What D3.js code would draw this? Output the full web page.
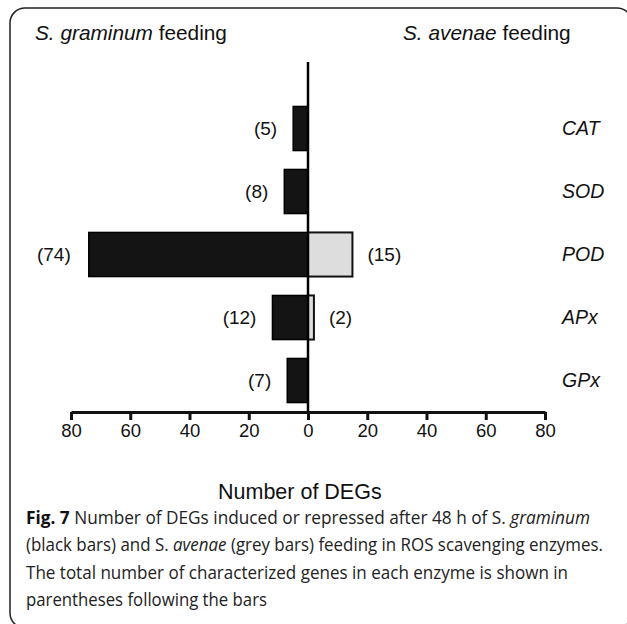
<!DOCTYPE html>
<html>
<head>
<meta charset="utf-8">
<script src="https://cdn.jsdelivr.net/npm/d3@7"></script>
<style>
  body { margin: 0; background: #fff; }
  svg { display: block; }
  .chart text { font-family: "Liberation Sans", Arial, sans-serif; fill: #111; }
  .caption text { font-family: "Open Sans", sans-serif; fill: #222; }
</style>
</head>
<body>
<div id="fig"></div>
<script>
// data
const enzymes = ["CAT", "SOD", "POD", "APx", "GPx"];
const graminum = [5, 8, 74, 12, 7];   // black bars (left)
const avenae = [0, 0, 15, 2, 0];      // grey bars (right)
const tickValues = [-80, -60, -40, -20, 0, 20, 40, 60, 80];
const captionLines = [
  [["Fig. 7", "bold"], [" Number of DEGs induced or repressed after 48 h of S. ", ""], ["graminum", "italic"]],
  [["(black bars) and S. ", ""], ["avenae", "italic"], [" (grey bars) feeding in ROS scavenging enzymes.", ""]],
  [["The total number of characterized genes in each enzyme is shown in", ""]],
  [["parentheses following the bars", ""]]
];
const captionWidths = [564, 577, 542, 241];

const W = 627, H = 624;
const FONT = "'Liberation Sans', Arial, sans-serif";

const svg = d3.select("#fig").append("svg")
  .attr("width", W)
  .attr("height", H);

// frame round the figure
svg.append("rect")
  .attr("x", 10).attr("y", 8)
  .attr("width", 622).attr("height", 620)
  .attr("rx", 15)
  .attr("fill", "none")
  .attr("stroke", "#222")
  .attr("stroke-width", 1.5);

const chart = svg.append("g").attr("class", "chart");

const x = d3.scaleLinear().domain([-80, 80]).range([71, 545]);
const y = d3.scaleBand().domain(enzymes).range([97, 412])
  .paddingInner(0.3).paddingOuter(0.15);

const rows = enzymes.map((e, i) => ({name: e, left: graminum[i], right: avenae[i]}));

// black bars
chart.selectAll("rect.left")
  .data(rows)
  .join("rect")
  .attr("class", "left")
  .attr("x", d => x(-d.left))
  .attr("y", d => y(d.name))
  .attr("width", d => x(0) - x(-d.left))
  .attr("height", y.bandwidth())
  .attr("fill", "#141414")
  .attr("stroke", "#000")
  .attr("stroke-width", 1.5);

// grey bars
chart.selectAll("rect.right")
  .data(rows.filter(d => d.right > 0))
  .join("rect")
  .attr("class", "right")
  .attr("x", x(0))
  .attr("y", d => y(d.name))
  .attr("width", d => x(d.right) - x(0))
  .attr("height", y.bandwidth())
  .attr("fill", "#dcdddc")
  .attr("stroke", "#111")
  .attr("stroke-width", 2);

// value labels
chart.selectAll("text.lval")
  .data(rows)
  .join("text")
  .attr("class", "lval")
  .attr("x", d => x(-d.left) - (d.left > 50 ? 18 : 16))
  .attr("y", d => y(d.name) + y.bandwidth() / 2)
  .attr("dy", "0.35em")
  .attr("text-anchor", "end")
  .style("font-family", FONT)
  .style("font-size", "19px")
  .text(d => "(" + d.left + ")");

chart.selectAll("text.rval")
  .data(rows.filter(d => d.right > 0))
  .join("text")
  .attr("class", "rval")
  .attr("x", d => x(d.right) + 15)
  .attr("y", d => y(d.name) + y.bandwidth() / 2)
  .attr("dy", "0.35em")
  .style("font-family", FONT)
  .style("font-size", "19px")
  .text(d => "(" + d.right + ")");

// enzyme names
chart.selectAll("text.name")
  .data(rows)
  .join("text")
  .attr("class", "name")
  .attr("x", 562)
  .attr("y", d => y(d.name) + y.bandwidth() / 2)
  .attr("dy", "0.35em")
  .style("font-family", FONT)
  .style("font-size", "19.5px")
  .style("font-style", "italic")
  .text(d => d.name);

// centre line
chart.append("line")
  .attr("x1", x(0)).attr("x2", x(0))
  .attr("y1", 62).attr("y2", 412)
  .attr("stroke", "#000")
  .attr("stroke-width", 2.5);

// x axis
const xAxis = d3.axisBottom(x)
  .tickValues(tickValues)
  .tickFormat(d => Math.abs(d))
  .tickSizeInner(8)
  .tickSizeOuter(0)
  .tickPadding(4);

const axisG = chart.append("g")
  .attr("transform", "translate(0,412)")
  .call(xAxis);
axisG.select(".domain").attr("stroke", "#111").attr("stroke-width", 3);
axisG.selectAll(".tick line").attr("stroke", "#111").attr("stroke-width", 3);
axisG.selectAll(".tick text")
  .attr("fill", "#111")
  .style("font-family", FONT)
  .style("font-size", "18.5px");

chart.append("text")
  .attr("x", 218).attr("y", 499)
  .style("font-family", FONT)
  .style("font-size", "21.5px")
  .text("Number of DEGs");

// headers
const h1 = chart.append("text").attr("x", 35).attr("y", 40)
  .style("font-family", FONT).style("font-size", "20.8px");
h1.append("tspan").style("font-style", "italic").text("S. graminum");
h1.append("tspan").text(" feeding");
const h2 = chart.append("text").attr("x", 403).attr("y", 40)
  .style("font-family", FONT).style("font-size", "20.8px");
h2.append("tspan").style("font-style", "italic").text("S. avenae");
h2.append("tspan").text(" feeding");

// caption
const cap = svg.append("g").attr("class", "caption");
captionLines.forEach((parts, i) => {
  const t = cap.append("text")
    .attr("x", 26)
    .attr("y", 524 + i * 27.3)
    .attr("textLength", captionWidths[i])
    .attr("lengthAdjust", "spacingAndGlyphs")
    .style("font-size", "17.5px");
  parts.forEach(p => {
    const s = t.append("tspan").text(p[0]);
    if (p[1] === "bold") s.style("font-weight", "bold").style("fill", "#111");
    if (p[1] === "italic") s.style("font-style", "italic");
  });
});
</script>
</body>
</html>
